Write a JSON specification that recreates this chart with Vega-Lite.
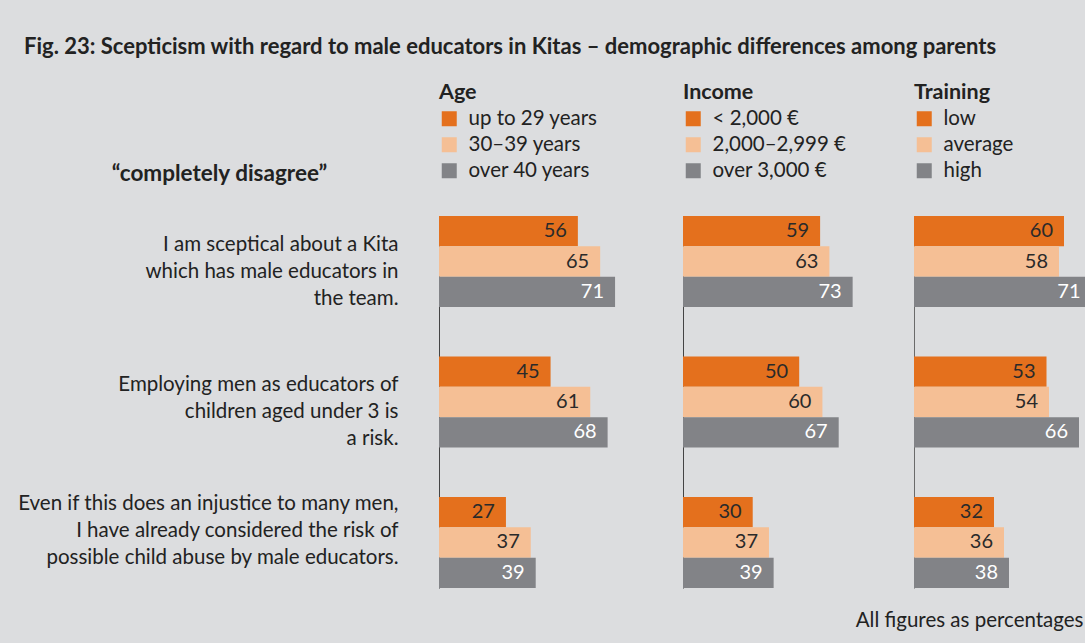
{
  "$schema": "https://vega.github.io/schema/vega-lite/v6.json",
  "background": "#dcdddf",
  "padding": {"left": 9, "top": 36, "right": 0, "bottom": 12},
  "title": {"text": "Fig. 23: Scepticism with regard to male educators in Kitas – demographic differences among parents", "anchor": "start", "fontSize": 22, "fontWeight": "bold", "color": "#222222", "offset": 23, "dx": 15},
  "spacing": 0,
  "bounds": "flush",
  "data": {"values": [
    {"s": "I am sceptical about a Kita|which has male educators in|the team.", "group": "Age", "level": "up to 29 years", "rank": 1, "value": 56},
    {"s": "I am sceptical about a Kita|which has male educators in|the team.", "group": "Age", "level": "30–39 years", "rank": 2, "value": 65},
    {"s": "I am sceptical about a Kita|which has male educators in|the team.", "group": "Age", "level": "over 40 years", "rank": 3, "value": 71},
    {"s": "Employing men as educators of|children aged under 3 is|a risk.", "group": "Age", "level": "up to 29 years", "rank": 1, "value": 45},
    {"s": "Employing men as educators of|children aged under 3 is|a risk.", "group": "Age", "level": "30–39 years", "rank": 2, "value": 61},
    {"s": "Employing men as educators of|children aged under 3 is|a risk.", "group": "Age", "level": "over 40 years", "rank": 3, "value": 68},
    {"s": "Even if this does an injustice to many men,|I have already considered the risk of|possible child abuse by male educators.", "group": "Age", "level": "up to 29 years", "rank": 1, "value": 27},
    {"s": "Even if this does an injustice to many men,|I have already considered the risk of|possible child abuse by male educators.", "group": "Age", "level": "30–39 years", "rank": 2, "value": 37},
    {"s": "Even if this does an injustice to many men,|I have already considered the risk of|possible child abuse by male educators.", "group": "Age", "level": "over 40 years", "rank": 3, "value": 39},
    {"s": "I am sceptical about a Kita|which has male educators in|the team.", "group": "Income", "level": "< 2,000 €", "rank": 1, "value": 59},
    {"s": "I am sceptical about a Kita|which has male educators in|the team.", "group": "Income", "level": "2,000–2,999 €", "rank": 2, "value": 63},
    {"s": "I am sceptical about a Kita|which has male educators in|the team.", "group": "Income", "level": "over 3,000 €", "rank": 3, "value": 73},
    {"s": "Employing men as educators of|children aged under 3 is|a risk.", "group": "Income", "level": "< 2,000 €", "rank": 1, "value": 50},
    {"s": "Employing men as educators of|children aged under 3 is|a risk.", "group": "Income", "level": "2,000–2,999 €", "rank": 2, "value": 60},
    {"s": "Employing men as educators of|children aged under 3 is|a risk.", "group": "Income", "level": "over 3,000 €", "rank": 3, "value": 67},
    {"s": "Even if this does an injustice to many men,|I have already considered the risk of|possible child abuse by male educators.", "group": "Income", "level": "< 2,000 €", "rank": 1, "value": 30},
    {"s": "Even if this does an injustice to many men,|I have already considered the risk of|possible child abuse by male educators.", "group": "Income", "level": "2,000–2,999 €", "rank": 2, "value": 37},
    {"s": "Even if this does an injustice to many men,|I have already considered the risk of|possible child abuse by male educators.", "group": "Income", "level": "over 3,000 €", "rank": 3, "value": 39},
    {"s": "I am sceptical about a Kita|which has male educators in|the team.", "group": "Training", "level": "low", "rank": 1, "value": 60},
    {"s": "I am sceptical about a Kita|which has male educators in|the team.", "group": "Training", "level": "average", "rank": 2, "value": 58},
    {"s": "I am sceptical about a Kita|which has male educators in|the team.", "group": "Training", "level": "high", "rank": 3, "value": 71},
    {"s": "Employing men as educators of|children aged under 3 is|a risk.", "group": "Training", "level": "low", "rank": 1, "value": 53},
    {"s": "Employing men as educators of|children aged under 3 is|a risk.", "group": "Training", "level": "average", "rank": 2, "value": 54},
    {"s": "Employing men as educators of|children aged under 3 is|a risk.", "group": "Training", "level": "high", "rank": 3, "value": 66},
    {"s": "Even if this does an injustice to many men,|I have already considered the risk of|possible child abuse by male educators.", "group": "Training", "level": "low", "rank": 1, "value": 32},
    {"s": "Even if this does an injustice to many men,|I have already considered the risk of|possible child abuse by male educators.", "group": "Training", "level": "average", "rank": 2, "value": 36},
    {"s": "Even if this does an injustice to many men,|I have already considered the risk of|possible child abuse by male educators.", "group": "Training", "level": "high", "rank": 3, "value": 38}
  ]},
  "resolve": {"scale": {"color": "independent", "x": "independent", "y": "independent"}, "legend": {"color": "independent"}},
  "hconcat": [
    {
      "width": 244, "height": 372,
      "transform": [{"filter": "datum.group === 'Age'"}],
      "encoding": {
        "y": {"field": "s", "type": "nominal", "sort": null,
          "scale": {"paddingInner": 0.352, "paddingOuter": 0},
          "axis": {"title": "“completely disagree”", "titleAngle": 0, "titleX": -220, "titleY": -36, "titleAlign": "center", "titleBaseline": "alphabetic", "titleFontSize": 22.5, "titleFontWeight": "bold", "titleColor": "#222222",
            "labelExpr": "split(datum.label, '|')", "labelFontSize": 20.5, "labelLineHeight": 27, "labelAlign": "right", "labelBaseline": "middle", "labelPadding": 41, "labelLimit": 1000,
            "labelOffset": {"condition": {"test": "indexof(datum.value, 'Even') === 0", "value": -38}, "value": -17},
            "labelColor": "#222222",
            "ticks": false, "domainColor": "#444444", "domainWidth": 1, "minExtent": 430, "maxExtent": 430}},
        "yOffset": {"field": "rank", "type": "ordinal", "scale": {"paddingInner": 0, "paddingOuter": 0}},
        "x": {"field": "value", "type": "quantitative", "scale": {"domain": [0, 98.4], "nice": false}, "axis": null}
      },
      "layer": [
        {"mark": {"type": "bar"},
         "encoding": {"color": {"field": "level", "type": "nominal", "scale": {"domain": ["up to 29 years", "30–39 years", "over 40 years"], "range": ["#e4701d", "#f5bf95", "#828387"]},
           "legend": {"orient": "none", "legendX": 0, "legendY": -134, "title": "Age", "titleFontSize": 21.5, "titleFontWeight": "bold", "titleColor": "#222222", "labelFontSize": 20.5, "labelColor": "#222222", "symbolType": "square", "symbolSize": 225, "symbolStrokeWidth": 0, "rowPadding": 5, "labelOffset": 9, "titlePadding": 5, "direction": "vertical"}}}},
        {"mark": {"type": "text", "align": "right", "baseline": "middle", "dx": -11, "fontSize": 20},
         "encoding": {"text": {"field": "value", "type": "quantitative"}, "color": {"condition": {"test": "datum.rank === 3", "value": "#ffffff"}, "value": "#2a2a2a"}}}
      ]
    },
    {
      "width": 231, "height": 372,
      "transform": [{"filter": "datum.group === 'Income'"}],
      "encoding": {
        "y": {"field": "s", "type": "nominal", "sort": null,
          "scale": {"paddingInner": 0.352, "paddingOuter": 0},
          "axis": {"title": null, "labels": false, "ticks": false, "domainColor": "#444444", "domainWidth": 1, "minExtent": 0, "maxExtent": 0}},
        "yOffset": {"field": "rank", "type": "ordinal", "scale": {"paddingInner": 0, "paddingOuter": 0}},
        "x": {"field": "value", "type": "quantitative", "scale": {"domain": [0, 99.4], "nice": false}, "axis": null}
      },
      "layer": [
        {"mark": {"type": "bar"},
         "encoding": {"color": {"field": "level", "type": "nominal", "scale": {"domain": ["< 2,000 €", "2,000–2,999 €", "over 3,000 €"], "range": ["#e4701d", "#f5bf95", "#828387"]},
           "legend": {"orient": "none", "legendX": 0, "legendY": -134, "title": "Income", "titleFontSize": 21.5, "titleFontWeight": "bold", "titleColor": "#222222", "labelFontSize": 20.5, "labelColor": "#222222", "symbolType": "square", "symbolSize": 225, "symbolStrokeWidth": 0, "rowPadding": 5, "labelOffset": 9, "titlePadding": 5, "direction": "vertical"}}}},
        {"mark": {"type": "text", "align": "right", "baseline": "middle", "dx": -11, "fontSize": 20},
         "encoding": {"text": {"field": "value", "type": "quantitative"}, "color": {"condition": {"test": "datum.rank === 3", "value": "#ffffff"}, "value": "#2a2a2a"}}}
      ]
    },
    {
      "width": 171, "height": 372,
      "transform": [{"filter": "datum.group === 'Training'"}],
      "encoding": {
        "y": {"field": "s", "type": "nominal", "sort": null,
          "scale": {"paddingInner": 0.352, "paddingOuter": 0},
          "axis": {"title": null, "labels": false, "ticks": false, "domainColor": "#6a6a6a", "domainWidth": 1, "minExtent": 0, "maxExtent": 0}},
        "yOffset": {"field": "rank", "type": "ordinal", "scale": {"paddingInner": 0, "paddingOuter": 0}},
        "x": {"field": "value", "type": "quantitative", "scale": {"domain": [0, 68.4], "nice": false},
          "axis": {"orient": "bottom", "labels": false, "ticks": false, "domain": false, "grid": false, "title": "All figures as percentages", "titleAnchor": "end", "titleAlign": "right", "titleX": 169, "titleFontSize": 20.5, "titleFontWeight": "normal", "titleColor": "#222222", "titlePadding": 22}}
      },
      "layer": [
        {"mark": {"type": "bar"},
         "encoding": {"color": {"field": "level", "type": "nominal", "scale": {"domain": ["low", "average", "high"], "range": ["#e4701d", "#f5bf95", "#828387"]},
           "legend": {"orient": "none", "legendX": 0, "legendY": -134, "title": "Training", "titleFontSize": 21.5, "titleFontWeight": "bold", "titleColor": "#222222", "labelFontSize": 20.5, "labelColor": "#222222", "symbolType": "square", "symbolSize": 225, "symbolStrokeWidth": 0, "rowPadding": 5, "labelOffset": 9, "titlePadding": 5, "direction": "vertical"}}}},
        {"mark": {"type": "text", "align": "right", "baseline": "middle", "dx": -11, "fontSize": 20},
         "encoding": {"text": {"field": "value", "type": "quantitative"}, "color": {"condition": {"test": "datum.rank === 3", "value": "#ffffff"}, "value": "#2a2a2a"}}}
      ]
    }
  ],
  "config": {"font": "Lato", "view": {"stroke": null}, "axis": {"grid": false}}
}
